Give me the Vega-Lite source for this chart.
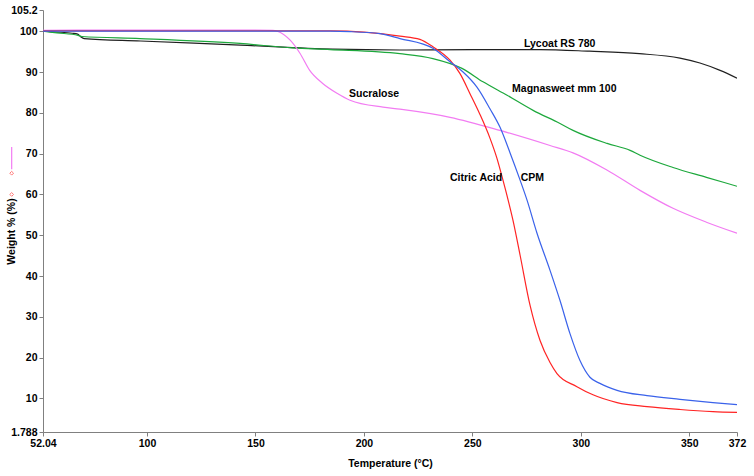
{
  "$schema": "https://vega.github.io/schema/vega-lite/v6.json",
  "autosize": {"type": "none"},
  "padding": {"left": 43, "top": 10, "right": 17, "bottom": 44},
  "width": 694,
  "height": 422,
  "background": "white",
  "config": {
    "view": {"stroke": null},
    "font": "Liberation Sans",
    "axis": {
      "grid": false,
      "domainColor": "#808080",
      "tickColor": "#808080",
      "tickSize": 4,
      "labelPadding": 2,
      "labelOverlap": false,
      "labelFlush": false,
      "labelFont": "Liberation Sans",
      "labelFontWeight": "bold",
      "labelFontSize": 10.5,
      "labelColor": "#000000",
      "titleFont": "Liberation Sans",
      "titleFontWeight": "bold",
      "titleFontSize": 10.5,
      "titleColor": "#000000"
    },
    "axisY": {"labelOverlap": false},
    "axisQuantitative": {"labelOverlap": false}
  },
  "datasets": {
    "curves": [
      {"s": "Lycoat RS 780", "t": 52.04, "w": 100},
      {"s": "Lycoat RS 780", "t": 58.5, "w": 99.8},
      {"s": "Lycoat RS 780", "t": 65.5, "w": 99.5},
      {"s": "Lycoat RS 780", "t": 68, "w": 99.3},
      {"s": "Lycoat RS 780", "t": 69.5, "w": 98.6},
      {"s": "Lycoat RS 780", "t": 71, "w": 98.2},
      {"s": "Lycoat RS 780", "t": 97, "w": 97.6},
      {"s": "Lycoat RS 780", "t": 143, "w": 96.6},
      {"s": "Lycoat RS 780", "t": 185.7, "w": 95.6},
      {"s": "Lycoat RS 780", "t": 216.6, "w": 95.4},
      {"s": "Lycoat RS 780", "t": 250, "w": 95.5},
      {"s": "Lycoat RS 780", "t": 281, "w": 95.5},
      {"s": "Lycoat RS 780", "t": 304, "w": 95.1},
      {"s": "Lycoat RS 780", "t": 327, "w": 94.5},
      {"s": "Lycoat RS 780", "t": 345.7, "w": 93.4},
      {"s": "Lycoat RS 780", "t": 354.9, "w": 92.2},
      {"s": "Lycoat RS 780", "t": 364.2, "w": 90.4},
      {"s": "Lycoat RS 780", "t": 372, "w": 88.5},

      {"s": "Magnasweet mm 100", "t": 52.04, "w": 100},
      {"s": "Magnasweet mm 100", "t": 58.5, "w": 99.6},
      {"s": "Magnasweet mm 100", "t": 68.2, "w": 99.0},
      {"s": "Magnasweet mm 100", "t": 70, "w": 98.7},
      {"s": "Magnasweet mm 100", "t": 96.8, "w": 98.2},
      {"s": "Magnasweet mm 100", "t": 142.9, "w": 97.0},
      {"s": "Magnasweet mm 100", "t": 167.3, "w": 95.9},
      {"s": "Magnasweet mm 100", "t": 184.4, "w": 95.5},
      {"s": "Magnasweet mm 100", "t": 216.6, "w": 94.5},
      {"s": "Magnasweet mm 100", "t": 231.8, "w": 93.3},
      {"s": "Magnasweet mm 100", "t": 245.2, "w": 90.9},
      {"s": "Magnasweet mm 100", "t": 254.9, "w": 87.6},
      {"s": "Magnasweet mm 100", "t": 266, "w": 84.3},
      {"s": "Magnasweet mm 100", "t": 278, "w": 80.6},
      {"s": "Magnasweet mm 100", "t": 290.4, "w": 77.4},
      {"s": "Magnasweet mm 100", "t": 296.4, "w": 75.7},
      {"s": "Magnasweet mm 100", "t": 312.1, "w": 72.5},
      {"s": "Magnasweet mm 100", "t": 322.7, "w": 70.8},
      {"s": "Magnasweet mm 100", "t": 327.3, "w": 69.6},
      {"s": "Magnasweet mm 100", "t": 342.5, "w": 66.6},
      {"s": "Magnasweet mm 100", "t": 357.9, "w": 64.2},
      {"s": "Magnasweet mm 100", "t": 372, "w": 62.0},

      {"s": "Sucralose", "t": 52.04, "w": 100.2},
      {"s": "Sucralose", "t": 100, "w": 100.3},
      {"s": "Sucralose", "t": 150, "w": 100.3},
      {"s": "Sucralose", "t": 158, "w": 100.2},
      {"s": "Sucralose", "t": 160, "w": 100.0},
      {"s": "Sucralose", "t": 166, "w": 97.8},
      {"s": "Sucralose", "t": 170.5, "w": 94.6},
      {"s": "Sucralose", "t": 175, "w": 90.4},
      {"s": "Sucralose", "t": 181, "w": 87.2},
      {"s": "Sucralose", "t": 187.6, "w": 84.8},
      {"s": "Sucralose", "t": 193.6, "w": 83.1},
      {"s": "Sucralose", "t": 208.8, "w": 81.4},
      {"s": "Sucralose", "t": 216.6, "w": 80.9},
      {"s": "Sucralose", "t": 239.7, "w": 78.9},
      {"s": "Sucralose", "t": 262.7, "w": 75.7},
      {"s": "Sucralose", "t": 285.8, "w": 72.0},
      {"s": "Sucralose", "t": 296.4, "w": 70.2},
      {"s": "Sucralose", "t": 312, "w": 66.0},
      {"s": "Sucralose", "t": 327.3, "w": 61.0},
      {"s": "Sucralose", "t": 342.5, "w": 56.6},
      {"s": "Sucralose", "t": 357.9, "w": 53.2},
      {"s": "Sucralose", "t": 372, "w": 50.5},

      {"s": "Citric Acid", "t": 52.04, "w": 100.1},
      {"s": "Citric Acid", "t": 184.4, "w": 100.1},
      {"s": "Citric Acid", "t": 200, "w": 99.8},
      {"s": "Citric Acid", "t": 216.6, "w": 98.8},
      {"s": "Citric Acid", "t": 225.8, "w": 98.0},
      {"s": "Citric Acid", "t": 231.8, "w": 96.2},
      {"s": "Citric Acid", "t": 239.7, "w": 92.9},
      {"s": "Citric Acid", "t": 244.3, "w": 89.6},
      {"s": "Citric Acid", "t": 248.9, "w": 84.7},
      {"s": "Citric Acid", "t": 253.5, "w": 79.6},
      {"s": "Citric Acid", "t": 258.1, "w": 73.8},
      {"s": "Citric Acid", "t": 261.3, "w": 68.9},
      {"s": "Citric Acid", "t": 264.1, "w": 63.5},
      {"s": "Citric Acid", "t": 266.4, "w": 58.8},
      {"s": "Citric Acid", "t": 268.7, "w": 53.7},
      {"s": "Citric Acid", "t": 272, "w": 45.1},
      {"s": "Citric Acid", "t": 276.6, "w": 32.8},
      {"s": "Citric Acid", "t": 281.2, "w": 24.2},
      {"s": "Citric Acid", "t": 285.8, "w": 18.8},
      {"s": "Citric Acid", "t": 289, "w": 16.1},
      {"s": "Citric Acid", "t": 298.2, "w": 12.9},
      {"s": "Citric Acid", "t": 305.6, "w": 10.9},
      {"s": "Citric Acid", "t": 316.7, "w": 9.0},
      {"s": "Citric Acid", "t": 330.5, "w": 8.0},
      {"s": "Citric Acid", "t": 345.7, "w": 7.3},
      {"s": "Citric Acid", "t": 360.9, "w": 6.8},
      {"s": "Citric Acid", "t": 372, "w": 6.6},

      {"s": "CPM", "t": 52.04, "w": 100},
      {"s": "CPM", "t": 184.4, "w": 100},
      {"s": "CPM", "t": 193.6, "w": 99.9},
      {"s": "CPM", "t": 207.4, "w": 99.4},
      {"s": "CPM", "t": 216.6, "w": 98.2},
      {"s": "CPM", "t": 231.8, "w": 95.8},
      {"s": "CPM", "t": 239.7, "w": 92.5},
      {"s": "CPM", "t": 245.7, "w": 90.0},
      {"s": "CPM", "t": 252.1, "w": 86.3},
      {"s": "CPM", "t": 258.1, "w": 81.0},
      {"s": "CPM", "t": 262.7, "w": 76.5},
      {"s": "CPM", "t": 267.3, "w": 70.3},
      {"s": "CPM", "t": 272, "w": 63.5},
      {"s": "CPM", "t": 275.2, "w": 58.6},
      {"s": "CPM", "t": 279.8, "w": 50.5},
      {"s": "CPM", "t": 285.8, "w": 41.4},
      {"s": "CPM", "t": 290.4, "w": 34.0},
      {"s": "CPM", "t": 295, "w": 25.9},
      {"s": "CPM", "t": 299.6, "w": 19.3},
      {"s": "CPM", "t": 304.2, "w": 15.2},
      {"s": "CPM", "t": 308.8, "w": 13.7},
      {"s": "CPM", "t": 316.7, "w": 12.0},
      {"s": "CPM", "t": 330.5, "w": 10.7},
      {"s": "CPM", "t": 345.7, "w": 9.8},
      {"s": "CPM", "t": 360.9, "w": 9.0},
      {"s": "CPM", "t": 372, "w": 8.5}
    ],
    "labels": [
      {"label": "Lycoat RS 780", "t": 273.8, "w": 96.8},
      {"label": "Magnasweet mm 100", "t": 268.3, "w": 85.8},
      {"label": "Sucralose", "t": 193.1, "w": 84.5},
      {"label": "Citric Acid", "t": 239.7, "w": 64.1},
      {"label": "CPM", "t": 272.3, "w": 64.1}
    ],
    "stubline": [
      {"t": 37.6, "w": 71.6},
      {"t": 37.6, "w": 66.2}
    ],
    "stubpts": [
      {"t": 37.6, "w": 65.2},
      {"t": 37.6, "w": 60.0}
    ]
  },
  "encoding": {
    "x": {
      "field": "t", "type": "quantitative",
      "scale": {"domain": [52.04, 372], "nice": false, "zero": false},
      "axis": {
        "title": "Temperature (°C)",
        "values": [52.04, 100, 150, 200, 250, 300, 350, 372],
        "labelExpr": "'' + datum.value",
        "labelOverlap": false,
        "labelFlush": false,
        "titleX": 347, "titleY": 31,
        "titleBaseline": "middle", "titleAlign": "center"
      }
    },
    "y": {
      "field": "w", "type": "quantitative",
      "scale": {"domain": [1.788, 105.2], "nice": false, "zero": false},
      "axis": {
        "title": "Weight % (%)",
        "values": [1.788, 10, 20, 30, 40, 50, 60, 70, 80, 90, 100, 105.2],
        "labelExpr": "'' + datum.value",
        "labelOverlap": false,
        "labelFlush": false,
        "labelSeparation": 0,
        "titleX": -32, "titleY": 221, "titleAngle": -90,
        "titleBaseline": "middle", "titleAlign": "center"
      }
    }
  },
  "layer": [
    {
      "data": {"name": "curves"},
      "mark": {"type": "line", "strokeWidth": 1.2, "interpolate": "monotone", "clip": true},
      "encoding": {
        "color": {
          "field": "s", "type": "nominal",
          "scale": {
            "domain": ["Lycoat RS 780", "Magnasweet mm 100", "Sucralose", "Citric Acid", "CPM"],
            "range": ["#202020", "#1DA83C", "#F27CF2", "#FF2424", "#3A62EA"]
          },
          "legend": null
        },
        "order": {"field": "t", "type": "quantitative"}
      }
    },
    {
      "data": {"name": "labels"},
      "mark": {"type": "text", "align": "left", "baseline": "middle", "font": "Liberation Sans", "fontWeight": "bold", "fontSize": 10.5, "color": "#000000"},
      "encoding": {
        "text": {"field": "label"}
      }
    },
    {
      "data": {"name": "stubline"},
      "mark": {"type": "line", "color": "#F27CF2", "strokeWidth": 1.2, "clip": false},
      "encoding": {}
    },
    {
      "data": {"name": "stubpts"},
      "mark": {"type": "point", "shape": "diamond", "filled": false, "color": "#FF4040", "size": 14, "strokeWidth": 1, "clip": false},
      "encoding": {}
    }
  ]
}
